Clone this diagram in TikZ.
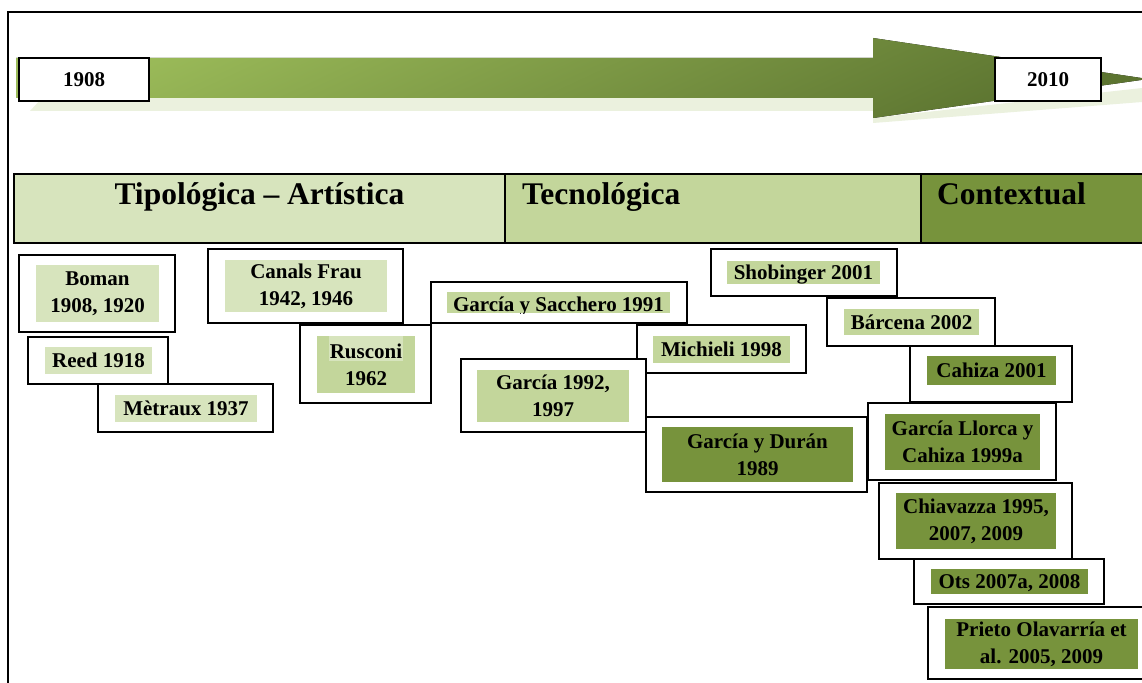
\documentclass[tikz,border=0pt]{standalone}
\usepackage{fontspec}
\setmainfont{Liberation Serif}
\usetikzlibrary{calc}
\definecolor{hlA}{HTML}{D7E4BD}
\definecolor{hlB}{HTML}{C3D69B}
\definecolor{hlC}{HTML}{77933C}
\definecolor{shad}{HTML}{EBF1DE}
\definecolor{arrA}{RGB}{155,187,89}
\definecolor{arrB}{RGB}{92,116,48}
\newcommand{\tlentry}[8][txtone]{%
  \draw[entrybox] #3 rectangle #4;
  \fill[#7] #5 rectangle #6;
  \node[#1] (#2) at ($#5!0.5!#6$) {#8};}
\begin{document}
\begin{tikzpicture}[x=1pt,y=-1pt,
  frameline/.style={line width=2pt},
  entrybox/.style={draw=black, line width=1.8pt, fill=white},
  yearbox/.style={draw=black, line width=1.8pt, fill=white, inner sep=0pt,
     font=\fontsize{21}{25}\selectfont\bfseries},
  txtone/.style={font=\fontsize{21}{27}\selectfont\bfseries, inner sep=0pt,
     text height=14pt, text depth=0pt},
  txttwo/.style={font=\fontsize{21}{27}\selectfont\bfseries, inner sep=0pt, align=center},
  headcell/.style={draw=black, line width=1.8pt},
  headtext/.style={font=\fontsize{31.5}{36}\selectfont\bfseries, inner sep=0pt},
  ]
\clip (0,0) rectangle (1142,682);
\fill[white] (0,0) rectangle (1142,682);
% frame
\draw[frameline] (8,700) -- (8,12) -- (1160,12);
% arrow reflection
\fill[shad] (30,111) -- (42,98) -- (873,98) -- (873,118) -- (1142,88) -- (1142,102) -- (873,123) -- (873,111) -- cycle;
% arrow
\fill[top color=arrA, bottom color=arrB, shading angle=25]
  (16,58) -- (873,58) -- (873,38) -- (1148,79) -- (873,118) -- (873,98) -- (16,98) -- cycle;
\node[yearbox, minimum width=130pt, minimum height=43pt] (y1908) at (84,79.5) {1908};
\node[yearbox, minimum width=106pt, minimum height=43pt] (y2010) at (1048,79.5) {2010};
% header
\draw[headcell, fill=hlA] (14,174) rectangle (505,243);
\draw[headcell, fill=hlB] (505,174) rectangle (921,243);
\draw[headcell, fill=hlC] (921,174) rectangle (1160,243);
\node[headtext, anchor=base] (tipo) at (259.5,204) {Tipológica – Artística};
\node[headtext, anchor=base west] (tecno) at (522,204) {Tecnológica};
\node[headtext, anchor=base west] (contx) at (937,204) {Contextual};
% entries
\tlentry[txttwo]{boman}{(19,255)}{(175,332)}{(36,265)}{(159,322)}{hlA}{Boman\\1908, 1920}
\tlentry{reed}{(28,337)}{(168,384)}{(45,347)}{(152,374)}{hlA}{Reed 1918}
\tlentry{metraux}{(98,384)}{(273,432)}{(115,395)}{(257,422)}{hlA}{Mètraux 1937}
\tlentry[txttwo]{canals}{(208,249)}{(403,323)}{(225,260)}{(387,312)}{hlA}{Canals Frau\\1942, 1946}
\draw[entrybox] (300,325) rectangle (431,403);
\fill[hlB] (317,336) rectangle (415,393);
\fill[hlA] (329,336) rectangle (403,361);
\node[txttwo] (rusconi) at (366,364.5) {Rusconi\\1962};
\draw[entrybox] (431,282) rectangle (687,323);
\fill[hlB] (447,292) rectangle (670,313);
\begin{scope}
\clip (440,290) rectangle (680,313.5);
\node[txtone, anchor=base] (sacchero) at (558.5,311) {García y Sacchero 1991};
\end{scope}
\tlentry{michieli}{(637,325)}{(806,373)}{(653,336)}{(790,363)}{hlB}{Michieli 1998}
\tlentry[txttwo]{garcia}{(461,359)}{(646,432)}{(477,370)}{(629,422)}{hlB}{García 1992,\\1997}
\tlentry[txttwo]{duran}{(646,417)}{(867,492)}{(662,427)}{(853,482)}{hlC}{García y Durán\\1989}
\tlentry{shobinger}{(711,249)}{(897,296)}{(727,261)}{(880,284)}{hlB}{Shobinger 2001}
\tlentry{barcena}{(827,298)}{(995,346)}{(844,309)}{(979,335)}{hlB}{Bárcena 2002}
\tlentry{cahiza}{(910,346)}{(1072,402)}{(927,356)}{(1056,385)}{hlC}{Cahiza 2001}
\tlentry[txttwo]{llorca}{(868,403)}{(1056,480)}{(885,414)}{(1040,470)}{hlC}{García Llorca y\\Cahiza 1999a}
\tlentry[txttwo]{chiavazza}{(879,483)}{(1072,559)}{(896,493)}{(1056,549)}{hlC}{Chiavazza 1995,\\2007, 2009}
\tlentry{ots}{(914,559)}{(1104,604)}{(931,569)}{(1088,594)}{hlC}{Ots 2007a, 2008}
\tlentry[txttwo]{prieto}{(928,607)}{(1150,679)}{(945,619)}{(1138,669)}{hlC}{Prieto Olavarría et\\al. 2005, 2009}
\end{tikzpicture}
\end{document}
